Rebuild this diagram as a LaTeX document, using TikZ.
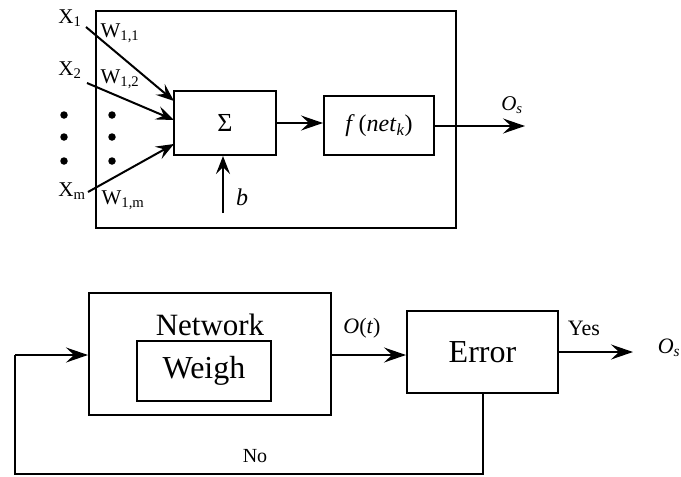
\documentclass[tikz,border=0pt]{standalone}
\usepackage{fontspec}
\setmainfont{Liberation Serif}
\usetikzlibrary{arrows.meta}
\tikzset{
  box/.style={draw, line width=2pt, inner sep=0pt, anchor=center},
  conn/.style={line width=2pt, -{Stealth[length=22pt,width=15pt,inset=8pt]}},
  sconn/.style={line width=2pt, -{Stealth[length=18pt,width=14pt,inset=7pt]}},
  line/.style={line width=2pt},
  dotm/.style={circle, fill, inner sep=0pt, minimum size=7.5pt},
  lab/.style={inner sep=0pt, anchor=center}
}
\begin{document}
\begin{tikzpicture}[x=1pt,y=-1pt]
\useasboundingbox (0,0) rectangle (681,477);
% ---------- top neuron ----------
\node[box, minimum width=360pt, minimum height=217pt] (outer) at (276,119.5) {};
\node[box, minimum width=102pt, minimum height=64pt] (sum) at (225,123) {\fontsize{26}{28}\selectfont Σ};
\node[box, minimum width=110pt, minimum height=59pt] (f) at (379,125.5)
  {\fontsize{24}{26}\selectfont\textit{f}\,(\textit{net}\textsubscript{\textit{k}})};
\node[lab] (x1) at (70,18) {\fontsize{21}{23}\selectfont X\textsubscript{1}};
\node[lab] (x2) at (70,70) {\fontsize{21}{23}\selectfont X\textsubscript{2}};
\node[lab] (xm) at (72,191) {\fontsize{21}{23}\selectfont X\textsubscript{m}};
\node[lab] (w1) at (120,33) {\fontsize{21}{23}\selectfont W\textsubscript{1,1}};
\node[lab] (w2) at (120,79) {\fontsize{21}{23}\selectfont W\textsubscript{1,2}};
\node[lab] (wm) at (123,200) {\fontsize{21}{23}\selectfont W\textsubscript{1,m}};
\node[dotm] (d1) at (64,115) {};
\node[dotm] (d2) at (64,137) {};
\node[dotm] (d3) at (64,161) {};
\node[dotm] (d4) at (112,115) {};
\node[dotm] (d5) at (112,137) {};
\node[dotm] (d6) at (112,161) {};
\coordinate (s1) at (86,27);
\coordinate (s2) at (87,83);
\coordinate (sm) at (88,192);
\coordinate (e1) at (174,101);
\coordinate (e2) at (174,120);
\coordinate (em) at (174,144);
\draw[sconn] (s1) -- (e1);
\draw[sconn] (s2) -- (e2);
\draw[sconn] (sm) -- (em);
\coordinate (bs) at (223,213);
\draw[sconn] (bs) -- (sum.south -| bs);
\node[lab] (b) at (242,197) {\fontsize{24}{26}\selectfont\textit{b}};
\draw[conn] (sum.east) -- (sum.east -| f.west);
\coordinate (oend) at (525,126);
\draw[conn] (f.east |- oend) -- (oend);
\node[lab] (os1) at (512,105) {\fontsize{21}{23}\selectfont\textit{O}\textsubscript{\textit{s}}};
% ---------- bottom loop ----------
\node[box, minimum width=242pt, minimum height=122pt] (net) at (210,354) {};
\node[lab] (nettxt) at (210,325) {\fontsize{31}{33}\selectfont Network};
\node[box, minimum width=134pt, minimum height=60pt] (wei) at (204,371) {\fontsize{32}{34}\selectfont Weigh};
\node[box, minimum width=151pt, minimum height=82pt] (err) at (482.5,352) {\fontsize{32}{34}\selectfont Error};
\draw[conn] (net.east |- 0,355) -- (err.west |- 0,355);
\node[lab] (ot) at (362,328) {\fontsize{22}{24}\selectfont\textit{O}(\textit{t})};
\coordinate (yend) at (633,352);
\draw[conn] (err.east |- yend) -- (yend);
\node[lab] (yes) at (584,328) {\fontsize{22}{24}\selectfont Yes};
\node[lab] (os2) at (669,348) {\fontsize{22}{24}\selectfont\textit{O}\textsubscript{\textit{s}}};
\coordinate (fb1) at (483,474);
\coordinate (fb2) at (15,474);
\coordinate (fb3) at (15,355);
\draw[line] (err.south -| fb1) -- (fb1) -- (fb2) -- (fb3);
\draw[conn] (fb3) -- (net.west |- fb3);
\node[lab] (no) at (255,456) {\fontsize{20}{22}\selectfont No};
\end{tikzpicture}
\end{document}
